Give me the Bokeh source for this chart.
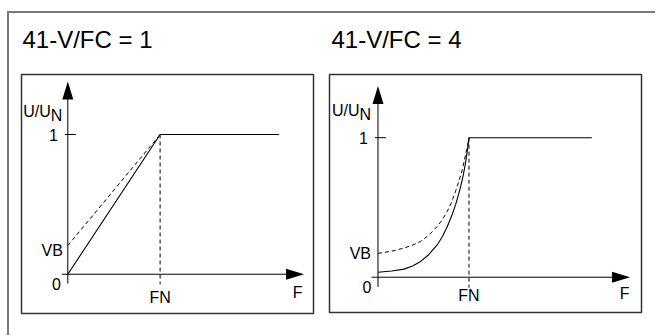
from bokeh.plotting import figure
from bokeh.layouts import row
from bokeh.models import Title
from bokeh.core.properties import value
from bokeh.embed import file_html
from bokeh.resources import INLINE

FONT = "Liberation Sans"

titles = ["41-V/FC = 1", "41-V/FC = 4"]

# Left panel: linear V/f characteristic
lin_f = [0.0, 1.0, 2.29]
lin_u = [0.0, 1.0, 1.0]
lin_boost_f = [0.0, 1.0]
lin_boost_u = [0.205, 1.0]

# Right panel: curved V/f characteristic
quad_f = [0.0, 0.15, 0.286, 0.38, 0.469, 0.56, 0.652, 0.71, 0.762, 0.81, 0.853, 0.89, 0.927, 0.96, 0.982, 1.0, 2.35]
quad_u = [0.036, 0.044, 0.058, 0.080, 0.113, 0.163, 0.233, 0.293, 0.364, 0.440, 0.520, 0.605, 0.700, 0.810, 0.907, 1.0, 1.0]
quad_boost_f = [0.0, 0.15, 0.286, 0.38, 0.469, 0.56, 0.652, 0.71, 0.762, 0.81, 0.853, 0.89, 0.927, 0.96, 0.982, 1.0]
quad_boost_u = [0.171, 0.186, 0.209, 0.230, 0.257, 0.302, 0.365, 0.415, 0.473, 0.540, 0.617, 0.690, 0.773, 0.870, 0.935, 1.0]

# axis extents (data units)
x_axis_ext = [(-0.065, 2.56), (-0.071, 2.77)]
y_axis_ext = [(-0.067, 1.38), (-0.07, 1.37)]
fn_value = 1.0
one_value = 1.0
vb_values = [0.205, 0.171]

panels_spec = [
    dict(title=titles[0], xr=(-0.5016, 2.662), yr=(-0.281, 1.4295), fw=292, fh=239,
         mbl=12, mbr=4, toff=1,
         curve=(lin_f, lin_u), boost=(lin_boost_f, lin_boost_u),
         xa=x_axis_ext[0], ya=y_axis_ext[0], vb=vb_values[0],
         off=dict(vb=(-5, 5), zero=(-7, 10), fn=23, f=(-6.5, 18), uu=(-17, -23))),
    dict(title=titles[1], xr=(-0.533, 2.896), yr=(-0.253, 1.453), fw=312, fh=238,
         mbl=12, mbr=7, toff=2,
         curve=(quad_f, quad_u), boost=(quad_boost_f, quad_boost_u),
         xa=x_axis_ext[1], ya=y_axis_ext[1], vb=vb_values[1],
         off=dict(vb=(-7, 0), zero=(-6.5, 9.5), fn=18.5, f=(-5.5, 16), uu=(-18.5, -27))),
]


def make_panel(s):
    p = figure(frame_width=s["fw"], frame_height=s["fh"], x_range=s["xr"], y_range=s["yr"],
               output_backend="svg", toolbar_location=None,
               x_axis_type=None, y_axis_type=None,
               min_border_left=s["mbl"], min_border_right=s["mbr"],
               min_border_top=60, min_border_bottom=10)
    p.grid.visible = False
    p.outline_line_color = "#333333"
    p.outline_line_width = 1.5
    p.background_fill_color = "white"
    p.border_fill_color = "white"
    # small spacer next to the frame, then the panel title above it
    spacer = Title(text=" ", text_font=FONT, text_font_size="2px", standoff=4)
    p.add_layout(spacer, "above")
    t = Title(text=s["title"], text_font=FONT, text_font_size="24px",
              text_font_style="normal", text_color="black", offset=s["toff"],
              vertical_align="top", standoff=24)
    p.add_layout(t, "above")

    xpx = s["fw"] / (s["xr"][1] - s["xr"][0])
    ypx = s["fh"] / (s["yr"][1] - s["yr"][0])

    x0, x1 = s["xa"]
    y0, y1 = s["ya"]
    head_len, head_w = 18, 11
    # axes
    p.line([x0, x1 - head_len / xpx * 0.5], [0, 0], line_color="black", line_width=1)
    p.line([0, 0], [y0, y1 - head_len / ypx * 0.5], line_color="black", line_width=1)
    # arrow heads
    p.patch([x1, x1 - head_len / xpx, x1 - head_len / xpx],
            [0, head_w / 2 / ypx, -head_w / 2 / ypx], color="black", line_width=0)
    p.patch([0, head_w / 2 / xpx, -head_w / 2 / xpx],
            [y1, y1 - head_len / ypx, y1 - head_len / ypx], color="black", line_width=0)
    # tick at 1
    p.line([-3 / xpx, 8 / xpx], [one_value, one_value], line_color="black", line_width=1)

    # dashed vertical at FN
    p.line([fn_value, fn_value], [one_value, y0 - 0.005], line_color="black",
           line_width=1, line_dash="4 3")
    # curves
    p.line(s["curve"][0], s["curve"][1], line_color="black", line_width=1.1)
    p.line(s["boost"][0], s["boost"][1], line_color="black", line_width=1, line_dash="4 3")

    o = s["off"]
    tk = dict(text_font=value(FONT), text_font_size="16px", text_color="black",
              text_baseline="middle")
    p.text([0], [one_value], ["1"], x_offset=-10, text_align="right", **tk)
    p.text([0], [s["vb"]], ["VB"], x_offset=o["vb"][0], y_offset=o["vb"][1],
           text_align="right", **tk)
    p.text([0], [0], ["0"], x_offset=o["zero"][0], y_offset=o["zero"][1],
           text_align="right", **tk)
    p.text([fn_value], [0], ["FN"], y_offset=o["fn"], text_align="center", **tk)
    p.text([x1], [0], ["F"], x_offset=o["f"][0], y_offset=o["f"][1],
           text_align="center", **tk)
    p.text([0], [one_value], ["U/U"], x_offset=o["uu"][0], y_offset=o["uu"][1],
           text_align="right", **tk)
    p.text([0], [one_value], ["N"], x_offset=o["uu"][0], y_offset=o["uu"][1] + 4,
           text_align="left", **tk)
    return p


p1 = make_panel(panels_spec[0])
p2 = make_panel(panels_spec[1])

layout = row(p1, p2, styles={"border-top": "2px solid #7a7a7a",
                             "border-left": "2px solid #7a7a7a",
                             "margin-top": "11px", "margin-left": "7px",
                             "padding-bottom": "12px", "padding-right": "7px"})

open("out.html", "w").write(file_html(layout, INLINE))
